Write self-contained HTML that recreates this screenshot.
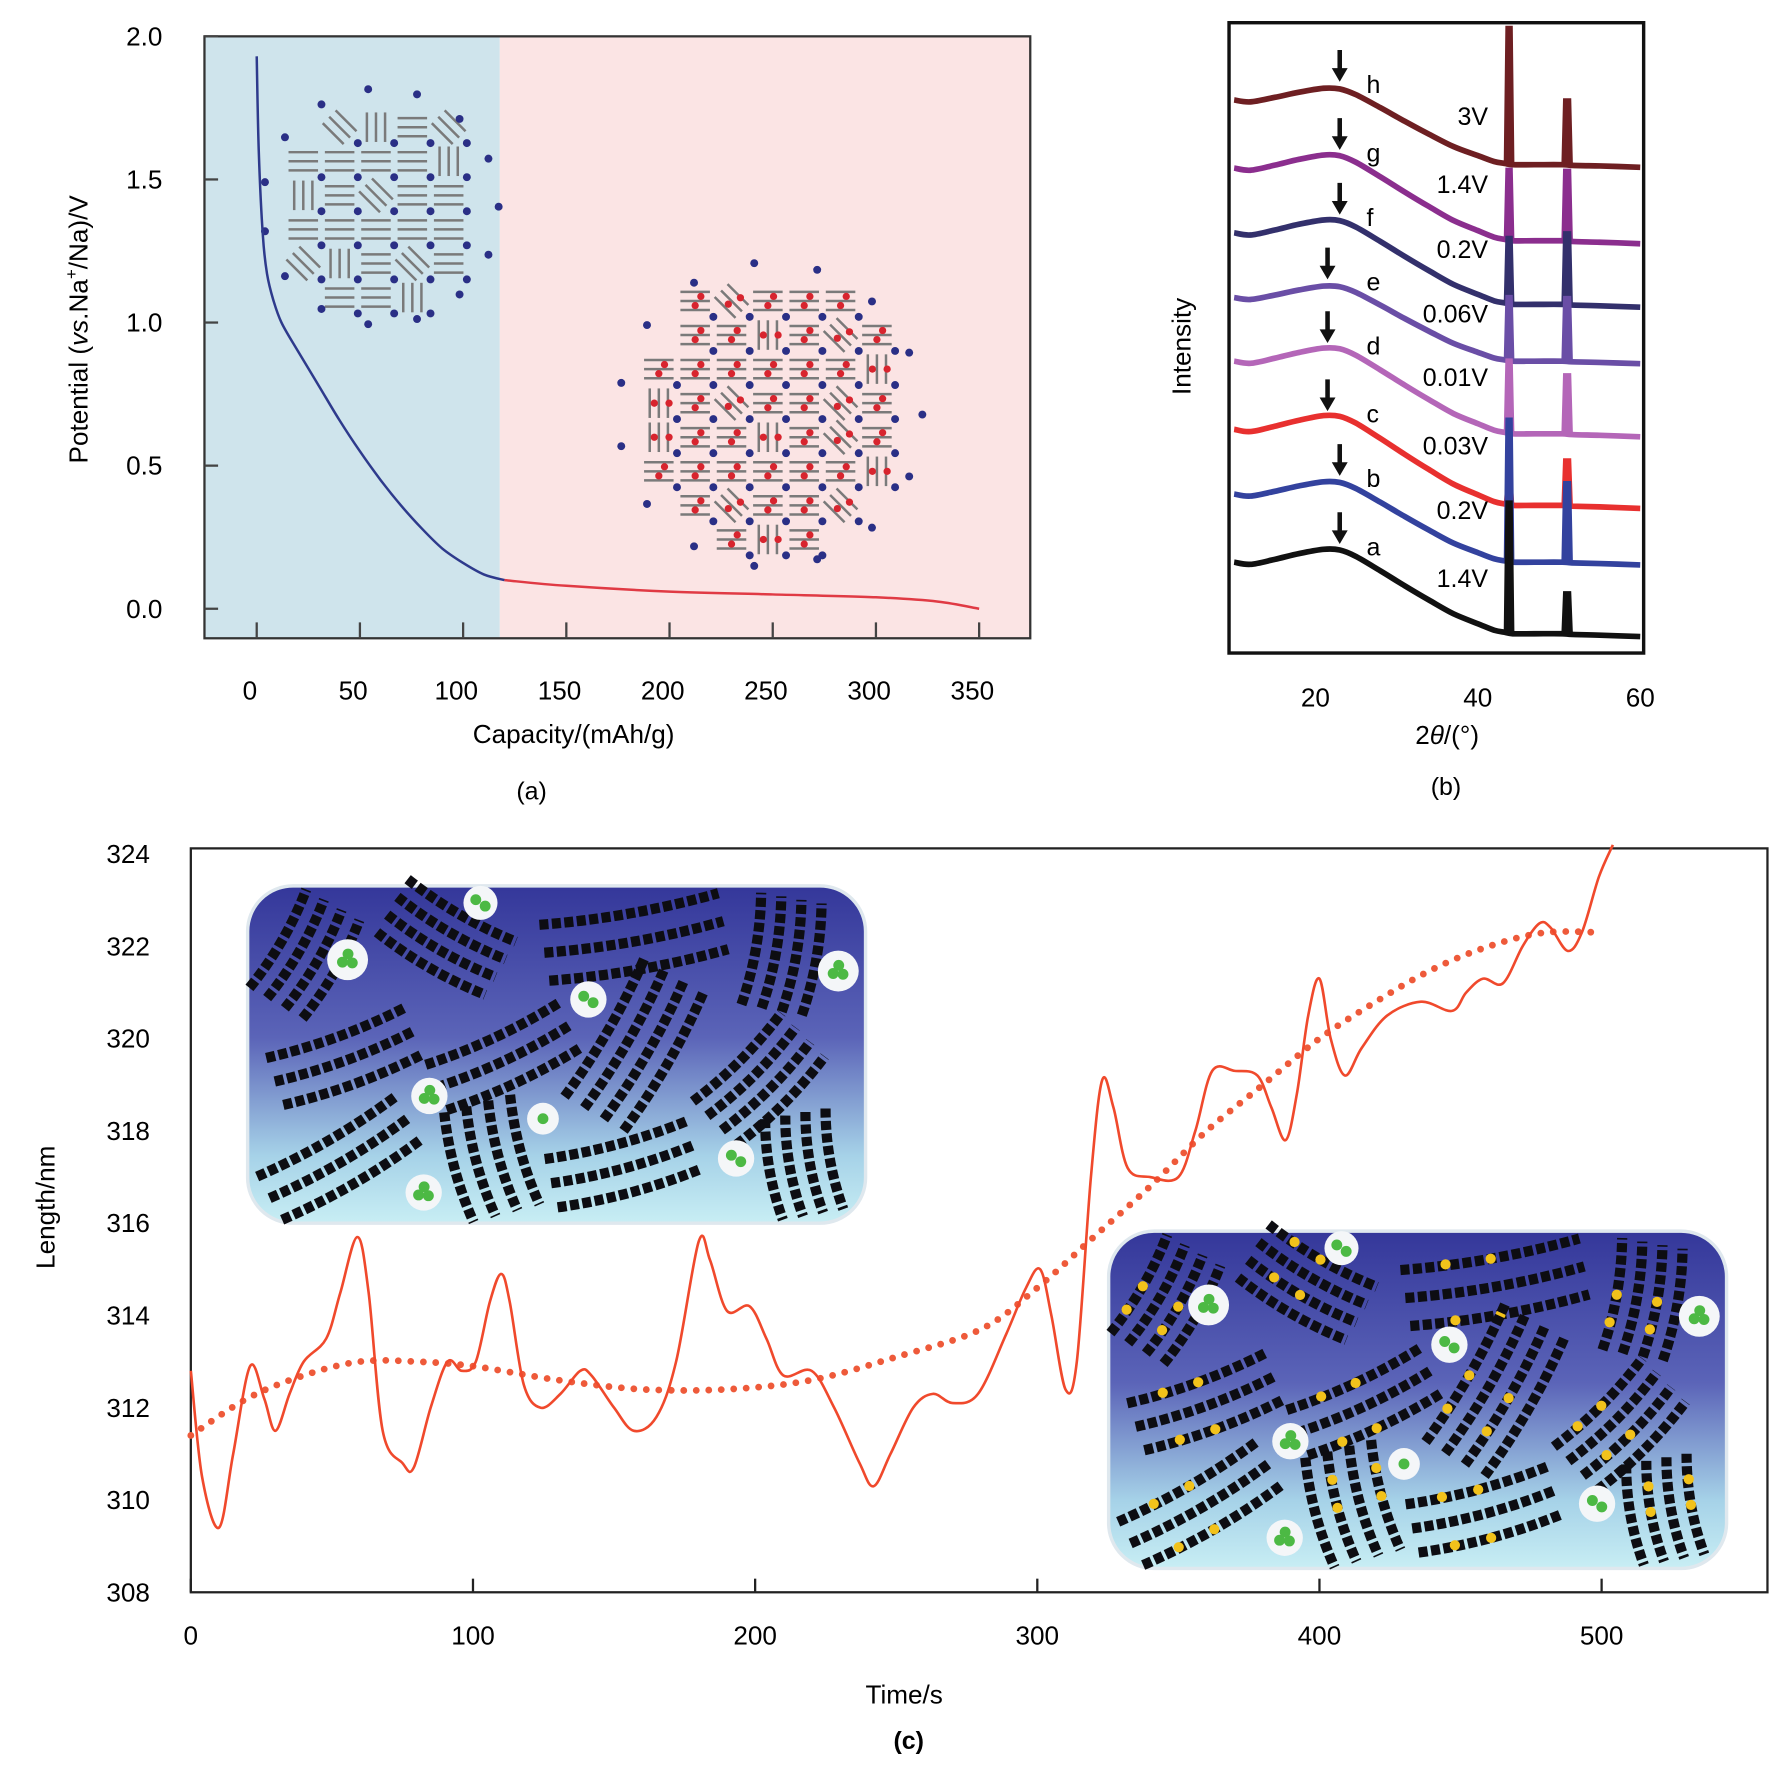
<!DOCTYPE html>
<html><head><meta charset="utf-8">
<style>
html,body{margin:0;padding:0;background:#fff;}
svg{display:block;font-family:"Liberation Sans",Arial,sans-serif;}
</style></head>
<body>
<svg id="fig" width="1772" height="1774" viewBox="0 0 1560 1562" preserveAspectRatio="none" xmlns="http://www.w3.org/2000/svg">
<defs>
<linearGradient id="insetGrad" x1="0" y1="0" x2="0" y2="1">
<stop offset="0" stop-color="#34379a"/><stop offset="0.45" stop-color="#5b64b8"/><stop offset="0.8" stop-color="#a6d2e8"/><stop offset="1" stop-color="#c8eef4"/>
</linearGradient>
</defs>
<!-- Panel a -->
<g id="panelA">
<rect x="180" y="32" width="260" height="530" fill="#cfe4ec"/>
<rect x="440" y="32" width="467" height="530" fill="#fbe4e4"/>
<rect x="180" y="32" width="727" height="530" fill="none" stroke="#333" stroke-width="2"/>
<g id="aTicks"></g>
<g id="aMol"></g>
<g id="aCurve"></g>
<text x="505" y="654" font-size="23" text-anchor="middle">Capacity/(mAh/g)</text>
<text transform="translate(77,290) rotate(-90)" font-size="23" text-anchor="middle">Potential (<tspan font-style="italic">vs</tspan>.Na<tspan dy="-9" font-size="15">+</tspan><tspan dy="9">/Na)/V</tspan></text>
<text x="468" y="704" font-size="22" text-anchor="middle">(a)</text>
</g>
<!-- Panel b -->
<g id="panelB">
<rect x="1082" y="20" width="365" height="555" fill="#fff" stroke="#111" stroke-width="3"/>
<g id="bCurves"></g>
<g id="bTicks"></g>
<text x="1274" y="655" font-size="23" text-anchor="middle">2<tspan font-style="italic">θ</tspan>/(°)</text>
<text transform="translate(1048,305) rotate(-90)" font-size="23" text-anchor="middle">Intensity</text>
<text x="1273" y="700" font-size="22" text-anchor="middle">(b)</text>
</g>
<!-- Panel c -->
<g id="panelC">
<rect x="168" y="747" width="1388" height="655" fill="#fff" stroke="#222" stroke-width="2"/>
<g id="cInsets"></g>
<g id="cLines"></g>
<g id="cTicks"></g>
<text x="796" y="1500" font-size="23" text-anchor="middle">Time/s</text>
<text transform="translate(48,1063) rotate(-90)" font-size="23" text-anchor="middle">Length/nm</text>
<text x="800" y="1540" font-size="22" font-weight="bold" text-anchor="middle">(c)</text>
</g>
</svg>
<script>
// ---------- Panel a data ----------
const aXTicks = [0, 50, 100, 150, 200, 250, 300, 350];
const aYTicks = [0.0, 0.5, 1.0, 1.5, 2.0];
const aCapacityBlue = [0, 1, 3, 5, 8, 12, 20, 30, 40, 50, 60, 70, 80, 90, 100, 110, 120];
const aPotentialBlue = [1.93, 1.6, 1.3, 1.17, 1.08, 1.0, 0.9, 0.78, 0.66, 0.55, 0.45, 0.36, 0.28, 0.21, 0.16, 0.12, 0.1];
const aCapacityRed = [120, 150, 200, 250, 300, 330, 350];
const aPotentialRed = [0.1, 0.08, 0.06, 0.05, 0.04, 0.025, 0.0];

// ---------- Panel b data ----------
const bXTicks = [20, 40, 60];
const bLabels = ['h', 'g', 'f', 'e', 'd', 'c', 'b', 'a'];
const bVoltages = ['3V', '1.4V', '0.2V', '0.06V', '0.01V', '0.03V', '0.2V', '1.4V'];
const bColors = ['#6e1f22', '#8b2e8e', '#33306c', '#6a4ea6', '#b466b8', '#e8302f', '#33429e', '#111111'];
const bStartLevel = [88, 148, 205, 262, 318, 378, 435, 495];
const bEndLevel = [145, 212, 268, 318, 382, 445, 495, 558];
const bPeak1 = [120, 62, 58, 56, 64, 18, 125, 115];
const bPeak2 = [57, 62, 63, 56, 52, 40, 70, 36];
const bArrowX = [23, 23, 23, 21.5, 21.5, 21.5, 23, 23];
const bProfileX = [10, 12, 15, 18, 21, 23, 25, 28, 31, 34, 37, 40, 42, 43.3, 44.3, 47, 50.4, 51.6, 55, 60];
const bProfileF = [0, 0.03, -0.04, -0.12, -0.18, -0.17, -0.08, 0.12, 0.33, 0.53, 0.72, 0.86, 0.95, 0.98, 1.0, 1.0, 1.0, 1.01, 1.02, 1.04];

// ---------- Panel c data ----------
const cXTicks = [0, 100, 200, 300, 400, 500];
const cYTicks = [308, 310, 312, 314, 316, 318, 320, 322, 324];
const cTime = [0,4,10,15,21,26,30,35,40,48,53,59,63,68,75,79,85,91,96,101,106,110,113,118,124,131,138,142,150,157,165,172,180,184,190,198,204,210,220,228,237,242,248,256,263,270,279,289,296,301,305,310,314,319,323,327,332,340,350,356,362,370,378,383,388,392,396,400,404,409,415,424,436,447,452,458,465,472,478,482,488,493,499,504];
const cLength = [312.8,310.5,309.4,311,312.9,312.2,311.5,312.3,313,313.5,314.5,315.7,314.5,311.5,310.8,310.7,312,313,312.8,313,314.3,314.9,314.3,312.5,312,312.3,312.8,312.7,312,311.5,311.8,313,315.6,315.2,314.1,314.2,313.5,312.7,312.8,312,310.8,310.3,311,312,312.3,312.1,312.3,313.6,314.6,315,314,312.4,313,317,319.1,318.5,317.2,317,317,318,319.3,319.3,319.2,318.5,317.8,318.8,320.5,321.3,320,319.2,319.8,320.5,320.8,320.6,321,321.3,321.2,322,322.5,322.4,321.9,322.3,323.5,324.2];
const cFitTime = [0,20,40,60,80,100,130,160,190,220,250,280,300,320,340,360,380,400,420,440,460,480,500];
const cFitLength = [311.4,312.2,312.7,313,313,312.9,312.6,312.4,312.4,312.6,313.1,313.7,314.6,315.7,316.8,318,319,320,320.8,321.5,322,322.3,322.3];

const NS = 'http://www.w3.org/2000/svg';
function mk(tag, attrs, parent) {
  const e = document.createElementNS(NS, tag);
  for (const k in attrs) e.setAttribute(k, attrs[k]);
  parent.appendChild(e);
  return e;
}
function smoothPath(pts) {
  let d = 'M' + pts[0][0].toFixed(1) + ',' + pts[0][1].toFixed(1);
  for (let i = 0; i < pts.length - 1; i++) {
    const p0 = pts[i - 1] || pts[i], p1 = pts[i], p2 = pts[i + 1], p3 = pts[i + 2] || p2;
    const c1x = p1[0] + (p2[0] - p0[0]) / 6, c1y = p1[1] + (p2[1] - p0[1]) / 6;
    const c2x = p2[0] - (p3[0] - p1[0]) / 6, c2y = p2[1] - (p3[1] - p1[1]) / 6;
    d += ' C' + c1x.toFixed(1) + ',' + c1y.toFixed(1) + ' ' + c2x.toFixed(1) + ',' + c2y.toFixed(1) + ' ' + p2[0].toFixed(1) + ',' + p2[1].toFixed(1);
  }
  return d;
}

// ===== Panel a =====
const ax = v => 226 + v * (862 - 226) / 350;
const ay = v => 536 - v * 252;
(function () {
  const g = document.getElementById('aTicks');
  aXTicks.forEach(t => {
    const l = mk('line', {x1: ax(t), y1: 548, x2: ax(t), y2: 562, stroke: '#444', 'stroke-width': 2}, g);
    
    
    const tx = mk('text', {x: ax(t) - 6, y: 616, 'font-size': 23, 'text-anchor': 'middle'}, g);
    tx.textContent = String(t);
    
    
  });
  aYTicks.forEach(t => {
    const l = mk('line', {x1: 180, y1: ay(t), x2: 192, y2: ay(t), stroke: '#444', 'stroke-width': 2}, g);
    
    
    const tx = mk('text', {x: 143, y: ay(t) + 8, 'font-size': 23, 'text-anchor': 'end'}, g);
    tx.textContent = t.toFixed(1);
    
    
  });
  const c = document.getElementById('aCurve');
  const pb = mk('path', {d: smoothPath(aCapacityBlue.map((v, i) => [ax(v), ay(aPotentialBlue[i])])), fill: 'none', stroke: '#2e3a8c', 'stroke-width': 2.2}, c);
  
  
  const pr = mk('path', {d: smoothPath(aCapacityRed.map((v, i) => [ax(v), ay(aPotentialRed[i])])), fill: 'none', stroke: '#e03a44', 'stroke-width': 2.2}, c);
  
  
  // molecule illustrations
  const m = document.getElementById('aMol');
  function cluster(cx, cy, r, red, name) {
    const cg = mk('g', {}, m);
    
    
    let k = 0;
    for (let yy = -r; yy <= r; yy += 30) {
      for (let xx = -r; xx <= r; xx += 32) {
        k++;
        if (xx * xx + yy * yy > r * r * 0.85) continue;
        const ang = ((k * 73) % 180) * Math.PI / 180 > 1.5 ? 0 : Math.PI / 2 * ((k % 3) / 2);
        const x0 = cx + xx, y0 = cy + yy;
        for (let s = -1; s <= 1; s++) {
          const ox = -Math.sin(ang) * s * 8, oy = Math.cos(ang) * s * 8;
          mk('line', {x1: x0 + ox - Math.cos(ang) * 13, y1: y0 + oy - Math.sin(ang) * 13, x2: x0 + ox + Math.cos(ang) * 13, y2: y0 + oy + Math.sin(ang) * 13, stroke: '#7a7a7a', 'stroke-width': 2.2}, cg);
        }
        if (red) {
          mk('circle', {cx: x0 - Math.sin(ang) * 4, cy: y0 + Math.cos(ang) * 4, r: 3.2, fill: '#d8242e'}, cg);
          mk('circle', {cx: x0 + Math.sin(ang) * 4 + 5, cy: y0 - Math.cos(ang) * 4, r: 3.2, fill: '#d8242e'}, cg);
        }
        mk('circle', {cx: x0 + 16, cy: y0 + 14, r: 3.5, fill: '#2a2f86'}, cg);
      }
    }
    for (let a = 0; a < 360; a += 24) {
      mk('circle', {cx: cx + Math.cos(a * Math.PI / 180) * (r + 4), cy: cy + Math.sin(a * Math.PI / 180) * (r + 4), r: 3.5, fill: '#2a2f86'}, cg);
    }
  }
  cluster(335, 182, 100, false, 'pristine-carbon-illustration');
  cluster(678, 365, 130, true, 'sodiated-carbon-illustration');
})();

// ===== Panel b =====
const bx = v => 1158 + (v - 20) * 7.15;
(function () {
  const g = document.getElementById('bCurves');
  bLabels.forEach((lab, i) => {
    const s = bStartLevel[i], e = bEndLevel[i];
    const pts = bProfileX.map((x, j) => [bx(x), s + bProfileF[j] * (e - s)]);
    const d = smoothPath(pts);
    const p = mk('path', {d: d, fill: 'none', stroke: bColors[i], 'stroke-width': 5, 'stroke-linejoin': 'round'}, g);
    
    
    const y1 = s + 0.985 * (e - s), y2 = s + 1.0 * (e - s);
    const pk1 = mk('path', {d: 'M' + bx(43.4) + ',' + y1 + ' L' + bx(43.6) + ',' + (y1 - bPeak1[i]) + ' L' + bx(44.1) + ',' + (y1 - bPeak1[i]) + ' L' + bx(44.3) + ',' + y2, fill: bColors[i], stroke: bColors[i], 'stroke-width': 3}, g);
    
    
    const pk2 = mk('path', {d: 'M' + bx(50.5) + ',' + y2 + ' L' + bx(50.7) + ',' + (y2 - bPeak2[i]) + ' L' + bx(51.3) + ',' + (y2 - bPeak2[i]) + ' L' + bx(51.5) + ',' + y2, fill: bColors[i], stroke: bColors[i], 'stroke-width': 3}, g);
    
    
    const axp = bx(bArrowX[i]), ay0 = s - 44;
    const ar = mk('path', {d: 'M' + (axp - 2) + ',' + ay0 + ' h4 v16 h5 l-7,12 l-7,-12 h5 z', fill: '#111'}, g);
    
    
    const tl = mk('text', {x: 1203, y: s - 6, 'font-size': 22}, g);
    tl.textContent = lab;
    
    
    const tv = mk('text', {x: 1310, y: s + 22, 'font-size': 22, 'text-anchor': 'end'}, g);
    tv.textContent = bVoltages[i];
    
    
  });
  const t = document.getElementById('bTicks');
  bXTicks.forEach(v => {
    const tx = mk('text', {x: bx(v), y: 622, 'font-size': 23, 'text-anchor': 'middle'}, t);
    tx.textContent = String(v);
    
    
  });
})();

// ===== Panel c =====
const cx = v => 168 + v * (1410 - 168) / 500;
const cy = v => 1402 - (v - 308) * (1402 - 752) / 16;
(function () {
  const ins = document.getElementById('cInsets');
  const groups = [
    [50,60,-60,100,4,18],[175,45,30,110,4,18],[340,45,-10,160,3,25],[470,60,-80,100,4,18],
    [85,150,-20,130,3,22],[225,150,-25,130,3,22],[340,140,-60,140,4,20],[450,170,-45,110,4,18],
    [80,240,-30,140,3,22],[215,240,75,100,4,20],[330,245,-15,130,3,22],[490,245,80,90,4,18]
  ];
  const bubbles = [[88,65,18,3],[205,15,15,2],[520,75,18,3],[300,100,16,2],[160,185,16,3],[260,205,14,1],[430,240,16,2],[155,270,16,3]];
  function inset(ox, oy, yellow, name) {
    const gg = mk('g', {}, ins);
    
    
    mk('rect', {x: ox, y: oy, width: 544, height: 297, rx: 40, fill: 'url(#insetGrad)', stroke: '#dfe8ee', 'stroke-width': 3}, gg);
    groups.forEach(gr => {
      const [gx, gy, ang, len, n, sp] = gr;
      const a = ang * Math.PI / 180, dx = Math.cos(a), dy = Math.sin(a), px = -dy, py = dx;
      for (let k = 0; k < n; k++) {
        const off = (k - (n - 1) / 2) * sp;
        const sx = ox + gx + px * off - dx * len / 2, sy = oy + gy + py * off - dy * len / 2;
        const ex = ox + gx + px * off + dx * len / 2, ey = oy + gy + py * off + dy * len / 2;
        const mx = (sx + ex) / 2 + px * 8, my = (sy + ey) / 2 + py * 8;
        mk('path', {d: 'M' + sx + ',' + sy + ' Q' + mx + ',' + my + ' ' + ex + ',' + ey, fill: 'none', stroke: '#0d0d12', 'stroke-width': 9, 'stroke-dasharray': '8 3'}, gg);
        if (yellow && k % 2 === 0) {
          mk('circle', {cx: (sx + ex) / 2 + px * 4, cy: (sy + ey) / 2 + py * 4, r: 4.5, fill: '#f2c21b'}, gg);
          mk('circle', {cx: sx * 0.75 + ex * 0.25 + px * 2, cy: sy * 0.75 + ey * 0.25 + py * 2, r: 4.5, fill: '#f2c21b'}, gg);
        }
      }
    });
    bubbles.forEach(b => {
      const [bx0, by0, r, nd] = b;
      mk('circle', {cx: ox + bx0, cy: oy + by0, r: r, fill: '#f4f6f8'}, gg);
      for (let d = 0; d < nd; d++) {
        const an = d * 2 * Math.PI / nd + 0.6;
        const rr = nd === 1 ? 0 : 5;
        mk('circle', {cx: ox + bx0 + Math.cos(an) * rr, cy: oy + by0 + Math.sin(an) * rr, r: 4.8, fill: '#4cb944'}, gg);
      }
    });
  }
  inset(218, 780, false, 'inset-before');
  inset(976, 1084, true, 'inset-after');

  const L = document.getElementById('cLines');
  const fit = mk('path', {d: smoothPath(cFitTime.map((t, i) => [cx(t), cy(cFitLength[i])])), fill: 'none', stroke: '#ee5a3a', 'stroke-width': 6, 'stroke-dasharray': '0 11', 'stroke-linecap': 'round'}, L);
  
  
  const sol = mk('path', {d: smoothPath(cTime.map((t, i) => [cx(t), cy(cLength[i])])), fill: 'none', stroke: '#f0492c', 'stroke-width': 2.3}, L);
  
  

  const T = document.getElementById('cTicks');
  cXTicks.forEach(v => {
    const l = mk('line', {x1: cx(v), y1: 1390, x2: cx(v), y2: 1402, stroke: '#222', 'stroke-width': 2}, T);
    
    
    const tx = mk('text', {x: cx(v), y: 1448, 'font-size': 23, 'text-anchor': 'middle'}, T);
    tx.textContent = String(v);
    
    
  });
  cYTicks.forEach(v => {
    const tx = mk('text', {x: 132, y: cy(v) + 8, 'font-size': 23, 'text-anchor': 'end'}, T);
    tx.textContent = String(v);
    
    
  });
})();
</script>
</body></html>
